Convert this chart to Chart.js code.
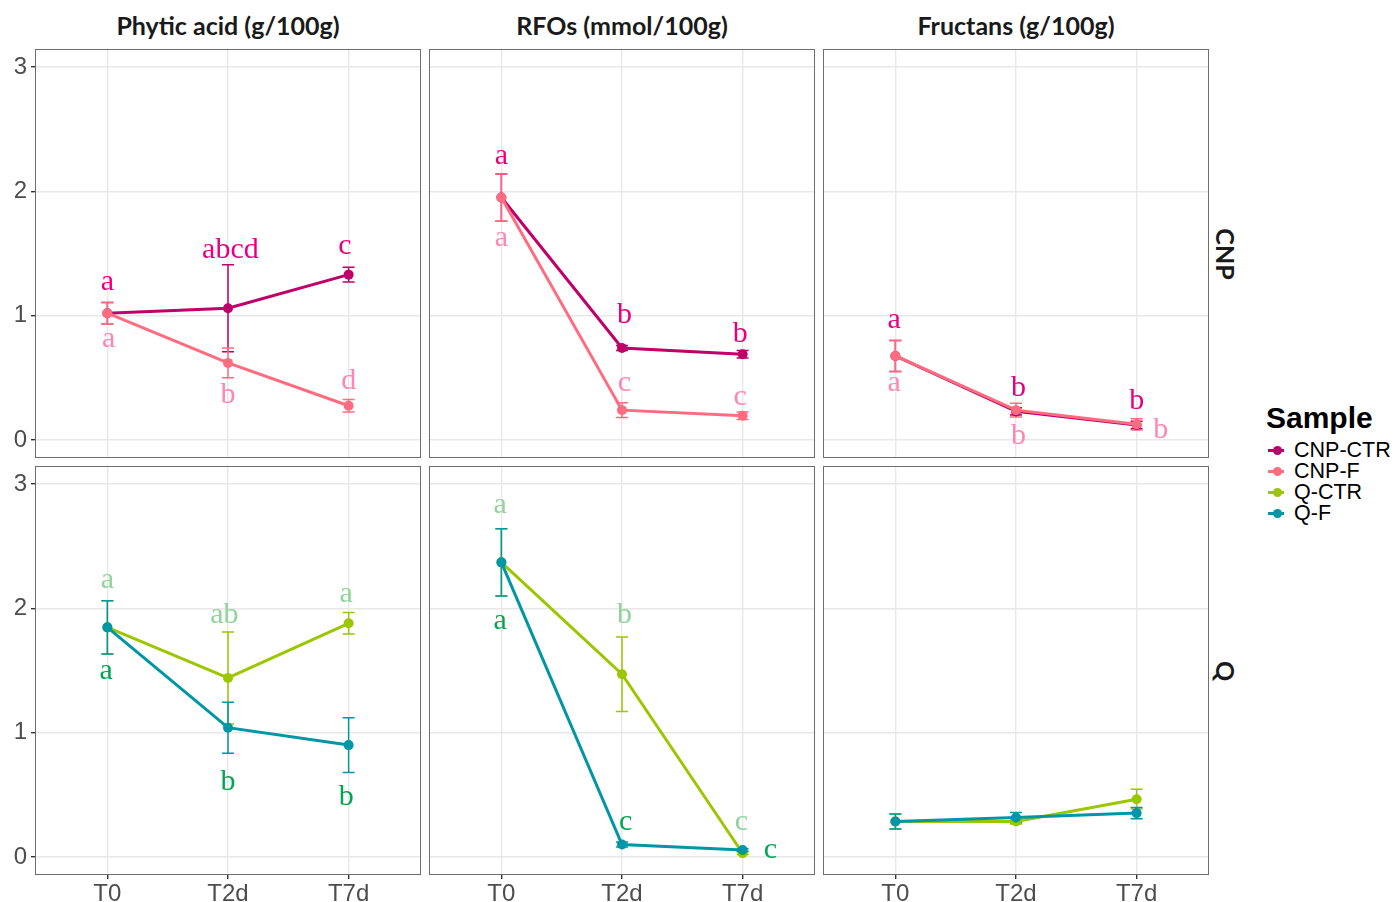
<!DOCTYPE html>
<html>
<head>
<meta charset="utf-8">
<script src="https://cdn.jsdelivr.net/npm/chart.js@4.4.1/dist/chart.umd.min.js"></script>
<style>
    body { margin: 0; background: #fff; width: 1394px; height: 902px; position: relative; overflow: hidden; font-family: 'Liberation Sans', Arial, sans-serif; }
    canvas { position: absolute; }
    .strip-top { position: absolute; top: 9px; width: 386px; text-align: center; font-family: Lato, 'Open Sans', sans-serif; font-weight: bold; font-size: 25px; line-height: 32px; color: #1a1a1a; }
    .strip-right { position: absolute; left: 1226px; font-family: Lato, 'Open Sans', sans-serif; font-weight: bold; font-size: 25px; color: #1a1a1a; transform: translate(-50%, -50%) rotate(90deg); white-space: nowrap; }
    .legend { position: absolute; left: 1266px; top: 399px; }
    .legend h4 { margin: 0 0 3px 0; font-size: 30px; font-weight: bold; color: #000; line-height: 38px; }
    .legend .item { position: relative; height: 21px; line-height: 21px; font-size: 21.5px; color: #000; padding-left: 28px; }
    .legend .sym { position: absolute; left: 2px; top: 9px; width: 16px; height: 3px; }
    .legend .dot { position: absolute; left: 5px; top: -3px; width: 9px; height: 9px; border-radius: 50%; }
</style>
</head>
<body>
<div id="root"></div>
<script>
// ---- data ----
const times = ['T0', 'T2d', 'T7d'];
const yTicks = [0, 1, 2, 3];
const measures = ['Phytic acid (g/100g)', 'RFOs (mmol/100g)', 'Fructans (g/100g)'];
const groups = ['CNP', 'Q'];
const samples = ['CNP-CTR', 'CNP-F', 'Q-CTR', 'Q-F'];

// means and error (sd) per measure / sample
const phyticCnpCtr = [1.02, 1.06, 1.33];   const phyticCnpCtrSd = [0.085, 0.35, 0.06];
const phyticCnpF   = [1.02, 0.62, 0.275];  const phyticCnpFSd   = [0.085, 0.12, 0.05];
const rfoCnpCtr    = [1.95, 0.74, 0.69];   const rfoCnpCtrSd    = [0.19, 0.02, 0.03];
const rfoCnpF      = [1.95, 0.24, 0.195];  const rfoCnpFSd      = [0.19, 0.06, 0.03];
const fruCnpCtr    = [0.676, 0.23, 0.12];  const fruCnpCtrSd    = [0.125, 0.03, 0.03];
const fruCnpF      = [0.676, 0.24, 0.126]; const fruCnpFSd      = [0.125, 0.055, 0.045];
const phyticQCtr   = [1.847, 1.44, 1.88];  const phyticQCtrSd   = [0.215, 0.37, 0.087];
const phyticQF     = [1.847, 1.04, 0.90];  const phyticQFSd     = [0.215, 0.205, 0.22];
const rfoQCtr      = [2.37, 1.47, 0.03];   const rfoQCtrSd      = [0.27, 0.3, 0.01];
const rfoQF        = [2.37, 0.10, 0.056];  const rfoQFSd        = [0.27, 0.02, 0.01];
const fruQCtr      = [0.286, 0.286, 0.465]; const fruQCtrSd     = [0.06, 0.02, 0.08];
const fruQF        = [0.286, 0.318, 0.353]; const fruQFSd       = [0.06, 0.04, 0.045];

// significance letters (text, x position on time axis, y baseline value)
const phyticCnpCtrLet = ['a', 'abcd', 'c'];  const phyticCnpCtrLetX = [1, 2.02, 2.97]; const phyticCnpCtrLetY = [1.21, 1.46, 1.50];
const phyticCnpFLet   = ['a', 'b', 'd'];     const phyticCnpFLetX   = [1.01, 2, 3];    const phyticCnpFLetY   = [0.75, 0.30, 0.41];
const rfoCnpCtrLet    = ['a', 'b', 'b'];     const rfoCnpCtrLetX    = [1, 2.02, 2.98]; const rfoCnpCtrLetY    = [2.22, 0.94, 0.79];
const rfoCnpFLet      = ['a', 'c', 'c'];     const rfoCnpFLetX      = [1, 2.02, 2.98]; const rfoCnpFLetY      = [1.56, 0.39, 0.28];
const fruCnpCtrLet    = ['a', 'b', 'b'];     const fruCnpCtrLetX    = [0.99, 2.02, 3]; const fruCnpCtrLetY    = [0.90, 0.354, 0.247];
const fruCnpFLet      = ['a', 'b', 'b'];     const fruCnpFLetX      = [0.99, 2.02, 3.2]; const fruCnpFLetY    = [0.39, -0.03, 0.014];
const phyticQCtrLet   = ['a', 'ab', 'a'];    const phyticQCtrLetX   = [1, 1.97, 2.98]; const phyticQCtrLetY   = [2.16, 1.88, 2.05];
const phyticQFLet     = ['a', 'b', 'b'];     const phyticQFLetX     = [0.99, 2, 2.98]; const phyticQFLetY     = [1.43, 0.54, 0.42];
const rfoQCtrLet      = ['a', 'b', 'c'];     const rfoQCtrLetX      = [0.99, 2.02, 2.99]; const rfoQCtrLetY   = [2.77, 1.88, 0.22];
const rfoQFLet        = ['a', 'c'];          const rfoQFLetX        = [0.99, 2.03];    const rfoQFLetY        = [1.83, 0.22];
const rfoQFLetExtra   = ['c'];               const rfoQFLetExtraX   = [3.23];          const rfoQFLetExtraY   = [-0.01];

// ---- styles ----
const lineColors = { 'CNP-CTR': '#BE0068', 'CNP-F': '#FF6C80', 'Q-CTR': '#9BC600', 'Q-F': '#0096A6' };
const letterColors = { 'CNP-CTR': '#E6007E', 'CNP-F': '#FF85B5', 'Q-CTR': '#8ED59A', 'Q-F': '#00A651' };

const colX = [35, 429, 823];
const rowY = [49, 466];
const panelW = 386, panelH = 409;
const padL = 35, padB = 26;

function series(name, vals, sd, order) {
    return {
        label: name,
        data: vals.map((v, i) => ({ x: i + 1, y: v })),
        sd: sd,
        borderColor: lineColors[name],
        backgroundColor: lineColors[name],
        borderWidth: 3,
        pointRadius: 5,
        pointHoverRadius: 5,
        pointBorderWidth: 0,
        order: order
    };
}

function letters(name, texts, xs, ys) {
    return texts.map((t, i) => ({ text: t, x: xs[i], y: ys[i], color: letterColors[name] }));
}

const panels = [
    { row: 0, col: 0, sets: [series('CNP-CTR', phyticCnpCtr, phyticCnpCtrSd, 1), series('CNP-F', phyticCnpF, phyticCnpFSd, 0)],
      lets: [...letters('CNP-CTR', phyticCnpCtrLet, phyticCnpCtrLetX, phyticCnpCtrLetY), ...letters('CNP-F', phyticCnpFLet, phyticCnpFLetX, phyticCnpFLetY)] },
    { row: 0, col: 1, sets: [series('CNP-CTR', rfoCnpCtr, rfoCnpCtrSd, 1), series('CNP-F', rfoCnpF, rfoCnpFSd, 0)],
      lets: [...letters('CNP-CTR', rfoCnpCtrLet, rfoCnpCtrLetX, rfoCnpCtrLetY), ...letters('CNP-F', rfoCnpFLet, rfoCnpFLetX, rfoCnpFLetY)] },
    { row: 0, col: 2, sets: [series('CNP-CTR', fruCnpCtr, fruCnpCtrSd, 1), series('CNP-F', fruCnpF, fruCnpFSd, 0)],
      lets: [...letters('CNP-CTR', fruCnpCtrLet, fruCnpCtrLetX, fruCnpCtrLetY), ...letters('CNP-F', fruCnpFLet, fruCnpFLetX, fruCnpFLetY)] },
    { row: 1, col: 0, sets: [series('Q-CTR', phyticQCtr, phyticQCtrSd, 1), series('Q-F', phyticQF, phyticQFSd, 0)],
      lets: [...letters('Q-CTR', phyticQCtrLet, phyticQCtrLetX, phyticQCtrLetY), ...letters('Q-F', phyticQFLet, phyticQFLetX, phyticQFLetY)] },
    { row: 1, col: 1, sets: [series('Q-CTR', rfoQCtr, rfoQCtrSd, 1), series('Q-F', rfoQF, rfoQFSd, 0)],
      lets: [...letters('Q-CTR', rfoQCtrLet, rfoQCtrLetX, rfoQCtrLetY), ...letters('Q-F', rfoQFLet, rfoQFLetX, rfoQFLetY), ...letters('Q-F', rfoQFLetExtra, rfoQFLetExtraX, rfoQFLetExtraY)] },
    { row: 1, col: 2, sets: [series('Q-CTR', fruQCtr, fruQCtrSd, 1), series('Q-F', fruQF, fruQFSd, 0)], lets: [] }
];

// error bars under the points; letters and panel frame on top
const panelDecor = {
    id: 'panelDecor',
    beforeDatasetsDraw(chart) {
        const { ctx, scales: { x, y } } = chart;
        ctx.save();
        chart.data.datasets.forEach(ds => {
            ctx.strokeStyle = ds.borderColor;
            ctx.lineWidth = 1.5;
            ds.data.forEach((p, i) => {
                const px = x.getPixelForValue(p.x);
                const top = y.getPixelForValue(p.y + ds.sd[i]);
                const bot = y.getPixelForValue(p.y - ds.sd[i]);
                ctx.beginPath();
                ctx.moveTo(px, top); ctx.lineTo(px, bot);
                ctx.moveTo(px - 6, top); ctx.lineTo(px + 6, top);
                ctx.moveTo(px - 6, bot); ctx.lineTo(px + 6, bot);
                ctx.stroke();
            });
        });
        ctx.restore();
    },
    afterDatasetsDraw(chart) {
        const { ctx, chartArea: a, scales: { x, y } } = chart;
        const lets = chart.config.options.plugins.panelDecor.letters;
        ctx.save();
        ctx.font = '30px "Liberation Serif", "Times New Roman", serif';
        ctx.textAlign = 'center';
        ctx.textBaseline = 'alphabetic';
        lets.forEach(l => {
            ctx.fillStyle = l.color;
            ctx.fillText(l.text, x.getPixelForValue(l.x), y.getPixelForValue(l.y));
        });
        ctx.strokeStyle = '#6E6E6E';
        ctx.lineWidth = 1;
        ctx.strokeRect(a.left + 0.5, a.top + 0.5, a.width - 1, a.height - 1);
        ctx.restore();
    }
};

const root = document.getElementById('root');

panels.forEach(p => {
    const left = p.col === 0;
    const bottom = p.row === 1;
    const pl = left ? padL : 0;
    const pb = bottom ? padB : 0;
    const cv = document.createElement('canvas');
    cv.width = panelW + pl;
    cv.height = panelH + pb;
    cv.style.left = (colX[p.col] - pl) + 'px';
    cv.style.top = rowY[p.row] + 'px';
    root.appendChild(cv);

    new Chart(cv.getContext('2d'), {
        type: 'line',
        data: { datasets: p.sets },
        options: {
            responsive: false,
            animation: false,
            events: [],
            layout: { padding: 0, autoPadding: false },
            plugins: { legend: { display: false }, tooltip: { enabled: false }, panelDecor: { letters: p.lets } },
            scales: {
                x: {
                    type: 'linear', min: 0.4, max: 3.6,
                    afterBuildTicks: s => { s.ticks = times.map((t, i) => ({ value: i + 1 })); },
                    afterFit: s => { s.height = pb; s.paddingLeft = 0; s.paddingRight = 0; },
                    ticks: { display: bottom, autoSkip: false, maxRotation: 0, padding: 1, color: '#4D4D4D',
                             font: { family: 'Liberation Sans', size: 24 }, callback: v => times[v - 1] },
                    grid: { color: '#E8E8E8', lineWidth: 1.4, drawTicks: bottom, tickLength: 4, tickColor: '#333' },
                    border: { display: false }
                },
                y: {
                    min: -0.145, max: 3.145,
                    afterBuildTicks: s => { s.ticks = yTicks.map(v => ({ value: v })); },
                    afterFit: s => { s.width = pl; s.paddingTop = 0; s.paddingBottom = 0; },
                    ticks: { display: left, padding: 4, color: '#4D4D4D',
                             font: { family: 'Liberation Sans', size: 24 }, callback: v => String(v) },
                    grid: { color: '#E8E8E8', lineWidth: 1.4, drawTicks: left, tickLength: 4, tickColor: '#333' },
                    border: { display: false }
                }
            }
        },
        plugins: [panelDecor]
    });
});

// facet strips
measures.forEach((m, i) => {
    const d = document.createElement('div');
    d.className = 'strip-top';
    d.style.left = colX[i] + 'px';
    d.textContent = m;
    root.appendChild(d);
});
groups.forEach((g, i) => {
    const d = document.createElement('div');
    d.className = 'strip-right';
    d.style.top = (rowY[i] + panelH / 2) + 'px';
    d.textContent = g;
    root.appendChild(d);
});

// legend
const lg = document.createElement('div');
lg.className = 'legend';
lg.innerHTML = '<h4>Sample</h4>' + samples.map(s =>
    `<div class="item"><span class="sym" style="background:${lineColors[s]}"><span class="dot" style="background:${lineColors[s]}"></span></span>${s}</div>`
).join('');
root.appendChild(lg);
</script>
</body>
</html>
